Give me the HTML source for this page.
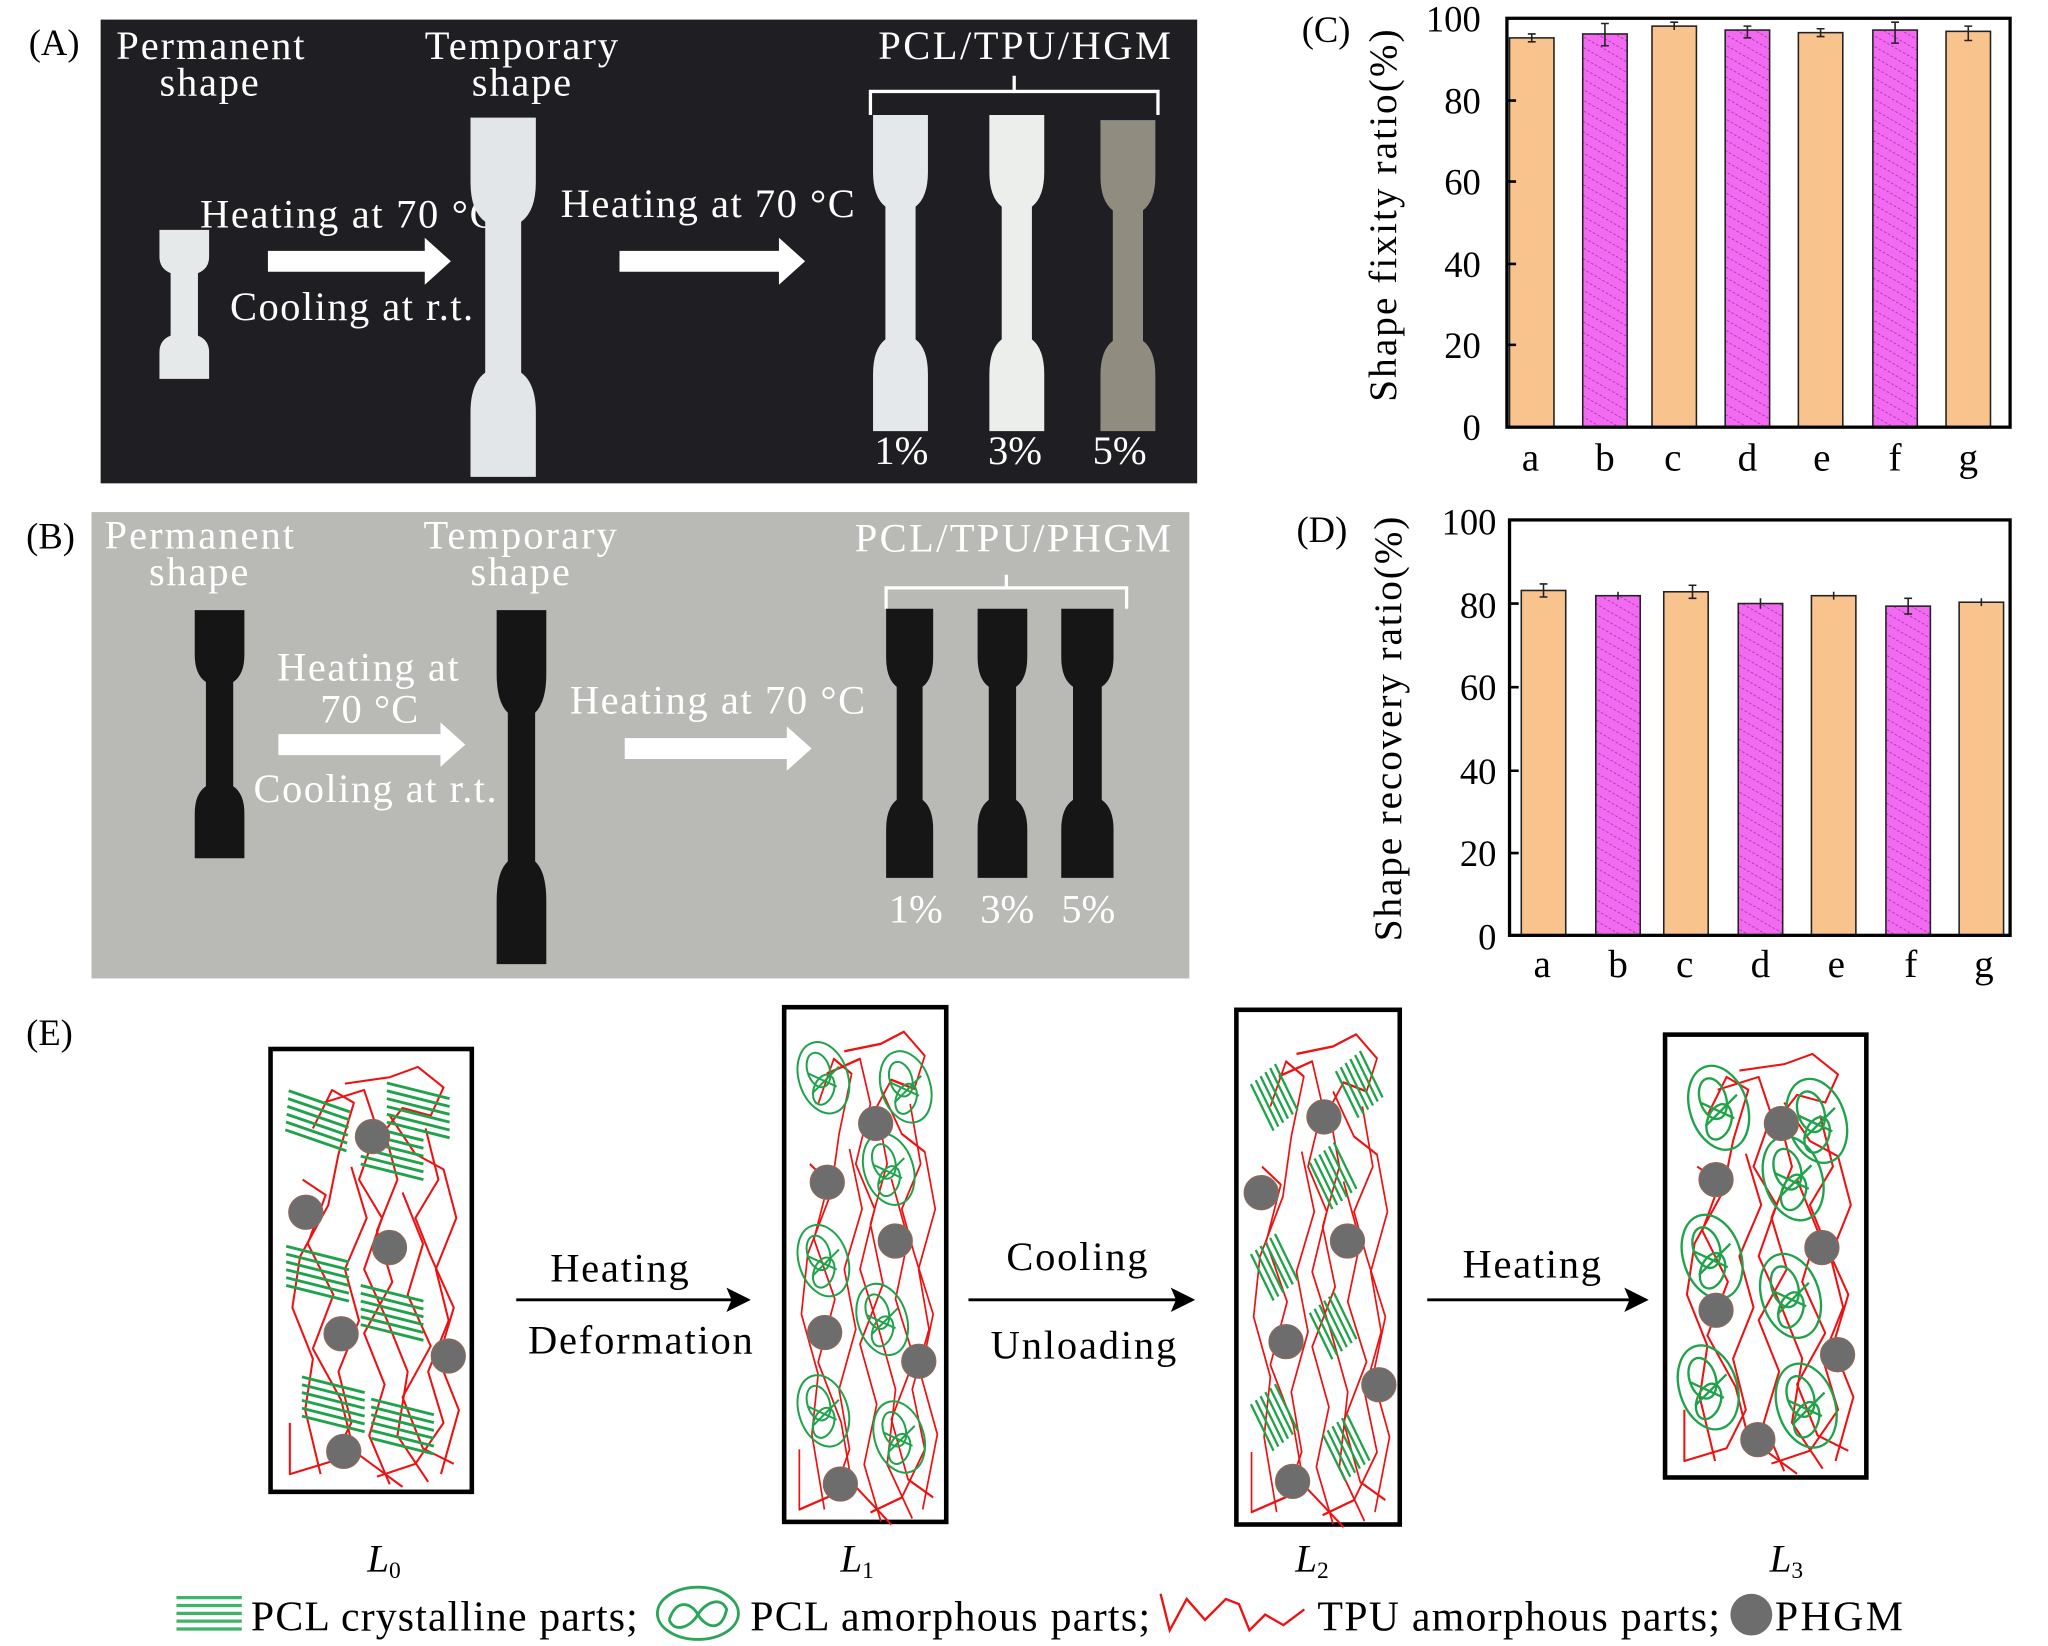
<!DOCTYPE html>
<html><head><meta charset="utf-8"><style>
html,body{margin:0;padding:0;background:#fff;}
svg{display:block;}
text{font-family:"Liberation Serif",serif;}
</style></head><body>
<svg width="2048" height="1646" viewBox="0 0 1567 1260" preserveAspectRatio="none" xmlns="http://www.w3.org/2000/svg">
<defs>
<path id="bone" d="M0,0 H40 V36 Q40,52 31,58 V142 Q40,148 40,164 V200 H0 V164 Q0,148 9,142 V58 Q0,52 0,36 Z"/>
<pattern id="hatch" width="7" height="7" patternUnits="userSpaceOnUse" patternTransform="rotate(-60)">
<rect width="7" height="7" fill="#f26af2"/><line x1="0" y1="0" x2="0" y2="7" stroke="#8a2a8a" stroke-width="1" stroke-dasharray="2,1.5"/>
</pattern>
<g id="chains" fill="none" stroke="#ee1111" stroke-width="1.6" stroke-linejoin="round">
<polyline points="30,60 45,30 62,40 50,80 42,120 20,160 14,200 30,240 24,280 36,330"/>
<polyline points="55,25 90,20 112,12 132,28 122,50 100,44 86,62 96,100 80,140 92,180 70,220 86,260 74,300 90,338"/>
<polyline points="90,50 110,80 132,92 142,130 126,170 136,210 120,250 132,290 110,322 80,332"/>
<polyline points="60,90 72,130 55,170 66,210 50,250 60,290 45,320 12,330 12,290"/>
<polyline points="100,110 116,150 104,190 122,230 100,270 116,310 140,322"/>
<polyline points="22,100 40,112 26,150 46,190 30,232 52,272 62,312 100,340"/>
<polyline points="38,40 70,30 80,60 66,100 84,130 70,170 88,210 104,250 96,300 120,336"/>
<polyline points="118,60 128,100 110,130 122,160 140,200 128,240 144,280 130,330"/>
</g>
<g id="hat" stroke="#1fa34a" stroke-width="2.2">
<line x1="-24" y1="-15" x2="24" y2="-3"/><line x1="-24" y1="-9" x2="24" y2="3"/><line x1="-24" y1="-3" x2="24" y2="9"/>
<line x1="-24" y1="3" x2="24" y2="15"/><line x1="-24" y1="9" x2="24" y2="21"/><line x1="-24" y1="-21" x2="24" y2="-9"/>
</g>
<g id="amo" fill="none" stroke="#1fa34a" stroke-width="1.8">
<ellipse cx="0" cy="0" rx="22" ry="33" transform="rotate(-18)"/>
<ellipse cx="-2" cy="-8" rx="10" ry="16" transform="rotate(-18)"/>
<ellipse cx="4" cy="10" rx="9" ry="14" transform="rotate(20)"/>
<path d="M-14,-4 L12,8 M-10,14 L14,-10"/>
</g>
</defs>

<!-- Panel A -->
<rect x="77" y="15" width="839" height="355" fill="#1f1f23"/>
<text x="22" y="42" font-size="28">(A)</text>
<g fill="#fff" font-size="31">
<text x="89" y="45" textLength="144">Permanent</text><text x="122" y="73" textLength="76">shape</text>
<text x="325" y="45" textLength="148">Temporary</text><text x="361" y="73" textLength="76">shape</text>
<text x="672" y="45" textLength="224">PCL/TPU/HGM</text>
<text x="153" y="174" textLength="227">Heating at 70 °C</text>
<text x="176" y="245" textLength="186">Cooling at r.t.</text>
<text x="429" y="166" textLength="225">Heating at 70 °C</text>
<text x="669" y="355">1%</text><text x="756" y="355">3%</text><text x="836" y="355">5%</text>
</g>
<path d="M666,88 V70 H776 V58 M776,70 H886 V88" fill="none" stroke="#fff" stroke-width="2.5"/>
<use href="#bone" fill="#e6e9ea" transform="translate(122,176) scale(0.95,0.57)"/>
<use href="#bone" fill="#e2e6e8" transform="translate(360,90) scale(1.25,1.375)"/>
<use href="#bone" fill="#e4e8ea" transform="translate(668,88) scale(1.05,1.21)"/>
<use href="#bone" fill="#eceeec" transform="translate(757,88) scale(1.05,1.21)"/>
<use href="#bone" fill="#908d80" transform="translate(842,92) scale(1.05,1.19)"/>
<path d="M205,192 H325 V182 L345,200 L325,218 V208 H205 Z" fill="#fff"/>
<path d="M474,192 H596 V182 L616,200 L596,218 V208 H474 Z" fill="#fff"/>

<!-- Panel B -->
<rect x="70" y="392" width="840" height="357" fill="#b9bab5"/>
<text x="20" y="420" font-size="28">(B)</text>
<g fill="#fff" font-size="31">
<text x="80" y="420" textLength="145">Permanent</text><text x="114" y="448" textLength="76">shape</text>
<text x="324" y="420" textLength="148">Temporary</text><text x="360" y="448" textLength="76">shape</text>
<text x="654" y="422" textLength="242">PCL/TPU/PHGM</text>
<text x="212" y="521" textLength="139">Heating at</text><text x="245" y="553" textLength="75">70 °C</text>
<text x="194" y="614" textLength="186">Cooling at r.t.</text>
<text x="436" y="546" textLength="226">Heating at 70 °C</text>
<text x="680" y="706">1%</text><text x="750" y="706">3%</text><text x="812" y="706">5%</text>
</g>
<path d="M678,466 V450 H770 V440 M770,450 H862 V466" fill="none" stroke="#fff" stroke-width="2.5"/>
<use href="#bone" fill="#151515" transform="translate(149,467) scale(0.95,0.95)"/>
<use href="#bone" fill="#151515" transform="translate(380,467) scale(0.95,1.355)"/>
<use href="#bone" fill="#161616" transform="translate(678,466) scale(0.9,1.03)"/>
<use href="#bone" fill="#161616" transform="translate(748,466) scale(0.95,1.03)"/>
<use href="#bone" fill="#161616" transform="translate(812,466) scale(1.0,1.03)"/>
<path d="M213,562 H337 V553 L356,570 L337,587 V578 H213 Z" fill="#fff"/>
<path d="M478,565 H602 V556 L621,573 L602,590 V581 H478 Z" fill="#fff"/>

<!-- Chart C -->
<text x="996" y="32" font-size="28">(C)</text>
<text transform="translate(1068,165) rotate(-90)" font-size="30" text-anchor="middle" textLength="285">Shape fixity ratio(%)</text>
<g font-size="28" text-anchor="end">
<text x="1133" y="337">0</text><text x="1133" y="274">20</text><text x="1133" y="212">40</text>
<text x="1133" y="149">60</text><text x="1133" y="87">80</text><text x="1133" y="24">100</text>
</g>
<g stroke="#222" stroke-width="1.2">
<rect x="1155" y="29" width="34" height="298" fill="#f9c38e"/>
<rect x="1211" y="26" width="34" height="301" fill="url(#hatch)"/>
<rect x="1264" y="20" width="34" height="307" fill="#f9c38e"/>
<rect x="1320" y="23" width="34" height="304" fill="url(#hatch)"/>
<rect x="1376" y="25" width="34" height="302" fill="#f9c38e"/>
<rect x="1433" y="23" width="34" height="304" fill="url(#hatch)"/>
<rect x="1489" y="24" width="34" height="303" fill="#f9c38e"/>
<path d="M1172,26 V32 M1169,26 H1175 M1169,32 H1175 M1228,18 V35 M1225,18 H1231 M1225,35 H1231 M1281,17 V23 M1278,17 H1284 M1337,20 V29 M1334,20 H1340 M1334,29 H1340 M1393,22 V28 M1390,22 H1396 M1390,28 H1396 M1450,17 V33 M1447,17 H1453 M1447,33 H1453 M1506,20 V31 M1503,20 H1509 M1503,31 H1509" fill="none"/>
</g>
<rect x="1153" y="14" width="385" height="313" fill="none" stroke="#000" stroke-width="2.5"/>
<g stroke="#000" stroke-width="2"><path d="M1153,264 h7 M1153,202 h7 M1153,139 h7 M1153,77 h7"/></g>
<g font-size="30" text-anchor="middle">
<text x="1171" y="360">a</text><text x="1228" y="360">b</text><text x="1280" y="360">c</text><text x="1337" y="360">d</text><text x="1394" y="360">e</text><text x="1450" y="360">f</text><text x="1506" y="360">g</text>
</g>

<!-- Chart D -->
<text x="992" y="415" font-size="28">(D)</text>
<text transform="translate(1072,558) rotate(-90)" font-size="30" text-anchor="middle" textLength="325">Shape recovery ratio(%)</text>
<g font-size="28" text-anchor="end">
<text x="1145" y="727">0</text><text x="1145" y="663">20</text><text x="1145" y="600">40</text>
<text x="1145" y="536">60</text><text x="1145" y="473">80</text><text x="1145" y="409">100</text>
</g>
<g stroke="#222" stroke-width="1.2">
<rect x="1164" y="452" width="34" height="264" fill="#f9c38e"/>
<rect x="1221" y="456" width="34" height="260" fill="url(#hatch)"/>
<rect x="1273" y="453" width="34" height="263" fill="#f9c38e"/>
<rect x="1330" y="462" width="34" height="254" fill="url(#hatch)"/>
<rect x="1386" y="456" width="34" height="260" fill="#f9c38e"/>
<rect x="1443" y="464" width="34" height="252" fill="url(#hatch)"/>
<rect x="1499" y="461" width="34" height="255" fill="#f9c38e"/>
<path d="M1181,447 V457 M1178,447 H1184 M1178,457 H1184 M1238,453 V459 M1295,448 V458 M1292,448 H1298 M1292,458 H1298 M1347,458 V466 M1403,453 V459 M1460,458 V470 M1457,458 H1463 M1457,470 H1463 M1516,458 V464" fill="none"/>
</g>
<rect x="1155" y="398" width="383" height="318" fill="none" stroke="#000" stroke-width="2.5"/>
<g stroke="#000" stroke-width="2"><path d="M1155,653 h7 M1155,590 h7 M1155,526 h7 M1155,462 h7"/></g>
<g font-size="30" text-anchor="middle">
<text x="1180" y="748">a</text><text x="1238" y="748">b</text><text x="1289" y="748">c</text><text x="1347" y="748">d</text><text x="1405" y="748">e</text><text x="1462" y="748">f</text><text x="1518" y="748">g</text>
</g>

<!-- Panel E -->
<text x="20" y="800" font-size="28">(E)</text>
<rect x="207" y="803" width="154" height="339" fill="#fff" stroke="#000" stroke-width="3.5"/>
<use href="#chains" transform="translate(210,805) scale(0.98,0.98)"/>
<g>
<use href="#hat" transform="translate(243,858) rotate(5)"/><use href="#hat" transform="translate(320,850)"/>
<use href="#hat" transform="translate(300,882)"/><use href="#hat" transform="translate(243,975)"/>
<use href="#hat" transform="translate(300,1005)"/><use href="#hat" transform="translate(255,1075)"/>
<use href="#hat" transform="translate(308,1092)"/>
</g>
<g fill="#6d6d6d" stroke="#8a6a5a" stroke-width="1">
<circle cx="285" cy="870" r="13"/><circle cx="234" cy="928" r="13"/><circle cx="298" cy="955" r="13"/>
<circle cx="261" cy="1021" r="13"/><circle cx="343" cy="1038" r="13"/><circle cx="263" cy="1111" r="13"/>
</g>
<rect x="600" y="771" width="124" height="394" fill="#fff" stroke="#000" stroke-width="3.5"/>
<use href="#chains" transform="translate(602,776) scale(0.8,1.15)"/>
<g>
<use href="#amo" transform="translate(630,825) scale(0.85)"/><use href="#amo" transform="translate(693,832) scale(0.85)"/>
<use href="#amo" transform="translate(680,895) scale(0.85)"/><use href="#amo" transform="translate(630,965) scale(0.85)"/>
<use href="#amo" transform="translate(675,1010) scale(0.85)"/><use href="#amo" transform="translate(630,1080) scale(0.85)"/>
<use href="#amo" transform="translate(688,1100) scale(0.85)"/>
</g>
<g fill="#6d6d6d" stroke="#8a6a5a" stroke-width="1">
<circle cx="670" cy="860" r="13"/><circle cx="633" cy="905" r="13"/><circle cx="685" cy="950" r="13"/>
<circle cx="631" cy="1020" r="13"/><circle cx="703" cy="1042" r="13"/><circle cx="643" cy="1136" r="13"/>
</g>
<rect x="946" y="773" width="125" height="394" fill="#fff" stroke="#000" stroke-width="3.5"/>
<use href="#chains" transform="translate(948,778) scale(0.8,1.15)"/>
<g>
<use href="#hat" transform="translate(975,840) rotate(50) scale(0.8)"/><use href="#hat" transform="translate(1040,830) rotate(50) scale(0.8)"/>
<use href="#hat" transform="translate(1020,900) rotate(50) scale(0.8)"/><use href="#hat" transform="translate(975,970) rotate(50) scale(0.8)"/>
<use href="#hat" transform="translate(1020,1015) rotate(50) scale(0.8)"/><use href="#hat" transform="translate(975,1085) rotate(50) scale(0.8)"/>
<use href="#hat" transform="translate(1030,1108) rotate(50) scale(0.8)"/>
</g>
<g fill="#6d6d6d" stroke="#8a6a5a" stroke-width="1">
<circle cx="1013" cy="855" r="13"/><circle cx="965" cy="913" r="13"/><circle cx="1031" cy="950" r="13"/>
<circle cx="984" cy="1027" r="13"/><circle cx="1055" cy="1060" r="13"/><circle cx="989" cy="1134" r="13"/>
</g>
<rect x="1274" y="792" width="154" height="339" fill="#fff" stroke="#000" stroke-width="3.5"/>
<use href="#chains" transform="translate(1277,795) scale(0.98,0.98)"/>
<g>
<use href="#amo" transform="translate(1315,848)"/><use href="#amo" transform="translate(1390,858)"/>
<use href="#amo" transform="translate(1372,902)"/><use href="#amo" transform="translate(1310,962)"/>
<use href="#amo" transform="translate(1370,992)"/><use href="#amo" transform="translate(1307,1062)"/>
<use href="#amo" transform="translate(1382,1076)"/>
</g>
<g fill="#6d6d6d" stroke="#8a6a5a" stroke-width="1">
<circle cx="1363" cy="860" r="13"/><circle cx="1313" cy="903" r="13"/><circle cx="1394" cy="955" r="13"/>
<circle cx="1313" cy="1003" r="13"/><circle cx="1406" cy="1037" r="13"/><circle cx="1345" cy="1102" r="13"/>
</g>

<g stroke="#000" stroke-width="2.2" fill="#000">
<line x1="395" y1="995" x2="562" y2="995"/><path d="M572,995 L558,988 L561,995 L558,1002 Z"/>
<line x1="741" y1="995" x2="902" y2="995"/><path d="M912,995 L898,988 L901,995 L898,1002 Z"/>
<line x1="1092" y1="995" x2="1249" y2="995"/><path d="M1259,995 L1245,988 L1248,995 L1245,1002 Z"/>
</g>
<g font-size="31">
<text x="421" y="981" textLength="106">Heating</text><text x="404" y="1036" textLength="172">Deformation</text>
<text x="770" y="972" textLength="108">Cooling</text><text x="758" y="1040" textLength="142">Unloading</text>
<text x="1119" y="978" textLength="106">Heating</text>
</g>
<g font-size="30" font-style="italic">
<text x="281" y="1203">L<tspan font-size="18" font-style="normal" dy="5">0</tspan></text>
<text x="643" y="1203">L<tspan font-size="18" font-style="normal" dy="5">1</tspan></text>
<text x="991" y="1203">L<tspan font-size="18" font-style="normal" dy="5">2</tspan></text>
<text x="1354" y="1203">L<tspan font-size="18" font-style="normal" dy="5">3</tspan></text>
</g>

<g stroke="#3cb56a" stroke-width="2.5">
<line x1="135" y1="1223" x2="185" y2="1223"/><line x1="135" y1="1229" x2="185" y2="1229"/>
<line x1="135" y1="1235" x2="185" y2="1235"/><line x1="135" y1="1241" x2="185" y2="1241"/>
<line x1="135" y1="1247" x2="185" y2="1247"/>
</g>
<g fill="none" stroke="#2aa55a" stroke-width="2.2">
<ellipse cx="534" cy="1235" rx="31" ry="20"/>
<path d="M512,1240 C518,1222 530,1228 534,1236 C540,1246 552,1250 556,1232 C552,1222 540,1226 534,1236 C528,1246 516,1250 512,1240"/>
</g>
<polyline points="888,1220 895,1248 908,1224 922,1240 938,1224 948,1228 956,1248 968,1236 982,1244 998,1232" fill="none" stroke="#ee1111" stroke-width="1.8"/>
<circle cx="1340" cy="1236" r="16" fill="#6d6d6d"/>
<g font-size="32">
<text x="192" y="1248" textLength="296">PCL crystalline parts;</text>
<text x="574" y="1248" textLength="306">PCL amorphous parts;</text>
<text x="1008" y="1248" textLength="308">TPU amorphous parts;</text>
<text x="1358" y="1248" textLength="98">PHGM</text>
</g>
</svg>
</body></html>
